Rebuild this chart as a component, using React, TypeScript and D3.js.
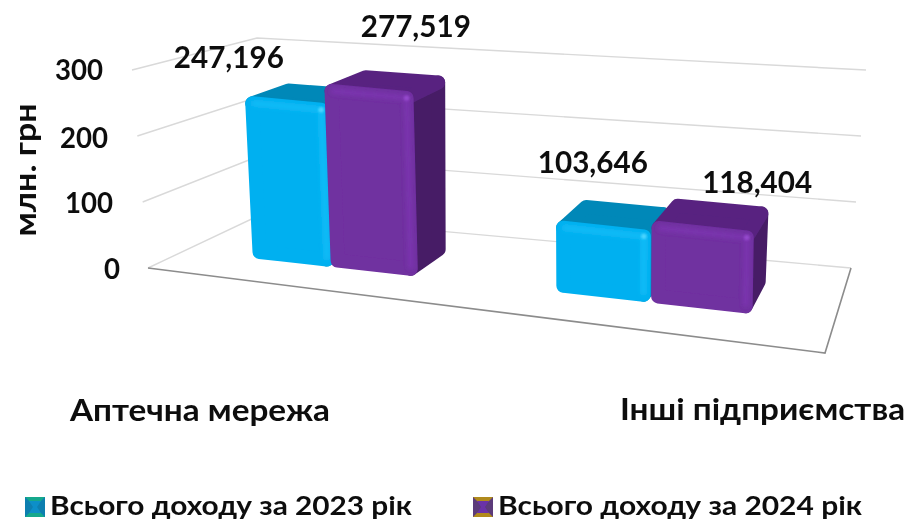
import React from "react";
import * as d3 from "d3";

const categories = ["Аптечна мережа", "Інші підприємства"];
const seriesNames = ["Всього доходу за 2023 рік", "Всього доходу за 2024 рік"];
const values2023 = [247.196, 103.646];
const values2024 = [277.519, 118.404];
const yTicks = [0, 100, 200, 300];

type Pt = [number, number];
function homography(c: Pt[]) {
  const [[x0, y0], [x1, y1], [x2, y2], [x3, y3]] = c;
  const dx1 = x1 - x2, dx2 = x3 - x2, sx = x0 - x1 + x2 - x3;
  const dy1 = y1 - y2, dy2 = y3 - y2, sy = y0 - y1 + y2 - y3;
  const den = dx1 * dy2 - dx2 * dy1;
  const g = (sx * dy2 - dx2 * sy) / den, h = (dx1 * sy - sx * dy1) / den;
  const a = x1 - x0 + g * x1, b = x3 - x0 + h * x3, d = y1 - y0 + g * y1, e = y3 - y0 + h * y3;
  return (u: number, v: number): Pt => {
    const w = g * u + h * v + 1;
    return [(a * u + b * v + x0) / w, (d * u + e * v + y0) / w];
  };
}
// floor plane: FL, FR, BR, BL
const floor = homography([[148, 268], [825, 353], [851, 268], [260, 215]]);
const bilin = (fl: number, fr: number, br: number, bl: number) => (u: number, v: number) =>
  (1 - v) * ((1 - u) * fl + u * fr) + v * ((1 - u) * bl + u * br);
const leanAt = bilin(-16, 0, 15, -3);
const riseAt = bilin(198, 205, 198, 177);
const hScale = d3.scaleLinear().domain([0, 300]).range([0, 1]);
const project = (u: number, v: number, val: number): Pt => {
  const t = hScale(val);
  const a = floor(u, v);
  return [a[0] + leanAt(u, v) * t, a[1] - riseAt(u, v) * t];
};

const band = d3.scaleBand<string>().domain(categories).range([0, 1]).paddingInner(0.44).paddingOuter(0.22).align(0.636);
const sub = d3.scaleBand<number>().domain([0, 1]).range([0, band.bandwidth()]).paddingInner(0.01);
// small correction of the band positions along the floor's perspective
const uWarp = d3.scaleLinear().domain([0, 0.14, 0.42, 0.64, 0.92, 1]).range([0, 0.136, 0.426, 0.644, 0.904, 1]);
const V0 = 0.3, V1 = 0.66;
const inset = 0.009;
const vInset = 0.025;
const valInset = 8;

const palettes = [
  { front: "#00B0F0", top: "#0088B8", side: "#0088B8", glow: "#16BDF8", spot: "#4AD4FF" },
  { front: "#7030A0", top: "#582480", side: "#471E66", glow: "#7C36B0", spot: "#9448CC" },
];
const FONT = "Lato, 'Noto Sans', sans-serif";
const line = d3.line<Pt>();
const poly = (pts: Pt[]) => line(pts)! + "Z";

function Bar({ u0, u1, val, p }: { u0: number; u1: number; val: number; p: (typeof palettes)[0] }) {
  const a = u0 + inset, b = u1 - inset, n = V0 + vInset, f = V1 - vInset, lo = valInset, hi = val - valInset;
  const fbl = project(a, n, lo), fbr = project(b, n, lo);
  const ftl = project(a, n, hi), ftr = project(b, n, hi);
  const bbr = project(b, f, lo), btr = project(b, f, hi), btl = project(a, f, hi);
  const style = { strokeWidth: 14, strokeLinejoin: "round" as const };
  return (
    <g>
      <path d={poly([fbr, ftr, btr, bbr])} fill={p.side} stroke={p.side} {...style} />
      <path d={poly([ftl, ftr, btr, btl])} fill={p.top} stroke={p.top} {...style} />
      <path d={poly([fbl, fbr, ftr, ftl])} fill={p.front} stroke={p.front} {...style} />
      <path d={line([ftl, ftr, fbr])!} fill="none" stroke={p.glow} strokeWidth={5} strokeLinejoin="round" filter="url(#soft)" />
      <circle cx={ftr[0]} cy={ftr[1]} r={2.8} fill={p.spot} filter="url(#soft1)" />
    </g>
  );
}

function Swatch({ x, y, outer, inner, edge }: { x: number; y: number; outer: string; inner: string; edge: string }) {
  const w = 20, h = 20;
  return (
    <g>
      <rect x={x} y={y} width={w} height={h} fill={outer} />
      <path d={poly([[x, y], [x + w / 2, y + h / 2], [x, y + h]])} fill={edge} />
      <path d={poly([[x + w, y], [x + w / 2, y + h / 2], [x + w, y + h]])} fill={edge} />
      <path d={poly([[x + 4, y + 4], [x + w - 4, y + 4], [x + w / 2 + 2, y + h / 2], [x + w - 4, y + h - 4], [x + 4, y + h - 4], [x + w / 2 - 2, y + h / 2]])} fill={inner} />
    </g>
  );
}

export default function App() {
  const labelOffsets: Pt[][] = [
    [[-95, -19], [12, -37]],
    [[-33, -31], [37, -10]],
  ];
  const bars = categories.flatMap((c, i) =>
    [values2023[i], values2024[i]].map((val, s) => {
      const u0 = band(c)! + sub(s)!;
      return { c, i, s, val, u0: uWarp(u0), u1: uWarp(u0 + sub.bandwidth()) };
    })
  );
  const tickAnchors = [[120, 279], [113, 213], [108, 148], [103, 80]];
  return (
    <svg width={909} height={522} style={{ position: "absolute", left: 0, top: 0 }} fontFamily={FONT} fontWeight={700} fill="#111">
      <defs>
        <filter id="soft" x="-20%" y="-20%" width="140%" height="140%"><feGaussianBlur stdDeviation="2" /></filter>
        <filter id="soft1" x="-100%" y="-100%" width="300%" height="300%"><feGaussianBlur stdDeviation="1" /></filter>
        <filter id="fine" x="-5%" y="-5%" width="110%" height="110%"><feGaussianBlur stdDeviation="0.45" /></filter>
      </defs>
      <g filter="url(#fine)">
        {yTicks.map((t) => (
          <path key={t} d={line([project(0, 0, t), project(0, 1, t), project(1, 1, t)])!} fill="none" stroke="#D9D9D9" strokeWidth={1.4} />
        ))}
        <path d={line([project(0, 0, 0), project(1, 0, 0), project(1, 1, 0)])!} fill="none" stroke="#8C8C8C" strokeWidth={1.6} />
        {bars.map((b) => (
          <Bar key={b.c + b.s} u0={b.u0} u1={b.u1} val={b.val} p={palettes[b.s]} />
        ))}
        {bars.map((b) => {
          const top = project((b.u0 + b.u1) / 2, V1, b.val);
          const off = labelOffsets[b.i][b.s];
          return (
            <text key={b.c + b.s} x={top[0] + off[0]} y={top[1] + off[1]} textAnchor="middle" fontSize={30} textLength={110} lengthAdjust="spacingAndGlyphs">
              {b.val.toFixed(3).replace(".", ",")}
            </text>
          );
        })}
        {yTicks.map((t, i) => (
          <text key={t} x={tickAnchors[i][0]} y={tickAnchors[i][1]} textAnchor="end" fontSize={29} textLength={t === 0 ? 16 : 48} lengthAdjust="spacingAndGlyphs">{t}</text>
        ))}
        <text transform="translate(36,170) rotate(-90)" textAnchor="middle" fontSize={30} textLength={133} lengthAdjust="spacingAndGlyphs">млн. грн</text>
        <text x={70} y={421} fontSize={31} textLength={260} lengthAdjust="spacingAndGlyphs">{categories[0]}</text>
        <text x={620} y={420} fontSize={31} textLength={285} lengthAdjust="spacingAndGlyphs">{categories[1]}</text>
        <Swatch x={25} y={497} outer="#14A88C" inner="#0F8FC8" edge="#0B7FB0" />
        <text x={50} y={515} fontSize={27} textLength={362} lengthAdjust="spacingAndGlyphs">{seriesNames[0]}</text>
        <Swatch x={473} y={497} outer="#B08A1E" inner="#6A30A8" edge="#5B3A7A" />
        <text x={498} y={515} fontSize={27} textLength={364} lengthAdjust="spacingAndGlyphs">{seriesNames[1]}</text>
      </g>
    </svg>
  );
}
